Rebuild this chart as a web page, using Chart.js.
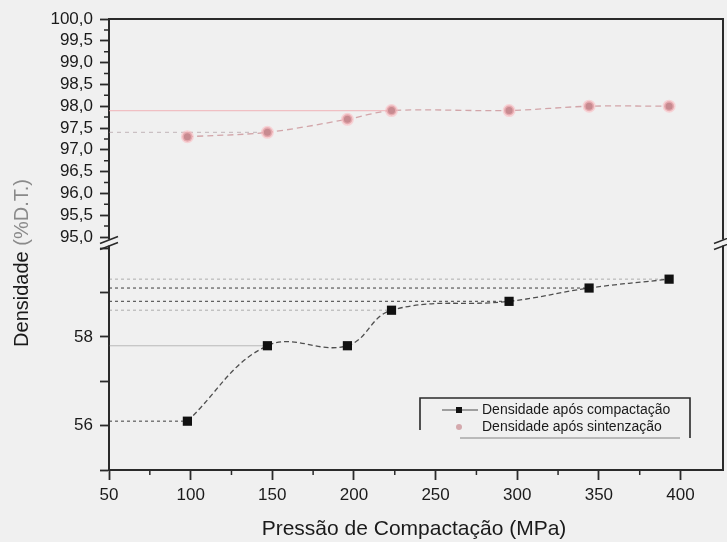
<!DOCTYPE html>
<html lang="pt">
  <head>
    <meta charset="UTF-8" />
    <title>Densidade x Pressão de Compactação</title>
    <style>
      body {
        margin: 0;
        padding: 0;
        background-color: #f0f0f0;
      }
      canvas {
        display: block;
      }
    </style>
  </head>
  <body>
    <canvas id="chart" width="727" height="542"></canvas>

    <script src="https://cdn.jsdelivr.net/npm/chart.js@4.4.1/dist/chart.umd.min.js"></script>
    <script>
      // dados
      const pressao = [98, 147, 196, 223, 295, 344, 393];
      const densCompactacao = [56.1, 57.8, 57.8, 58.6, 58.8, 59.1, 59.3];
      const densSinterizacao = [97.3, 97.4, 97.7, 97.9, 97.9, 98.0, 98.0];

      const xTicks = [50, 100, 150, 200, 250, 300, 350, 400];
      const xMinorTicks = [75, 125, 175, 225, 275, 325, 375];
      const yTopTicks = [95, 95.5, 96, 96.5, 97, 97.5, 98, 98.5, 99, 99.5, 100];
      const yTopMinorTicks = [95.25, 95.75, 96.25, 96.75, 97.25, 97.75, 98.25, 98.75, 99.25, 99.75];
      const yBotTicks = [55, 56, 57, 58, 59, 60];
      const yBotLabels = [56, 58];

      const legendLabels = ["Densidade após compactação", "Densidade após sintenzação"];
      const xTitle = "Pressão de Compactação (MPa)";
      const yTitle = ["Densidade", "(%D.T.)"];

      // linhas de chamada (do eixo ate o ponto) que aparecem na figura
      const dropCompactacao = [0, 1, 3, 4, 5, 6];
      const dropSinterizacao = [1, 3];
      const dropStyle = {
        dark: { color: "rgba(40,40,40,0.75)", dash: [3, 3] },
        light: { color: "rgba(120,120,120,0.45)", dash: [] },
        faint: { color: "rgba(80,80,80,0.35)", dash: [3, 3] },
        pink: { color: "rgba(240,170,175,0.7)", dash: [] },
        pinkDash: { color: "rgba(170,150,155,0.55)", dash: [4, 4] },
      };
      const dropCompStyle = ["dark", "light", null, "faint", "dark", "dark", "faint"];
      const dropSintStyle = [null, "pinkDash", null, "pink"];

      const FONT = "'Liberation Sans', Arial, sans-serif";
      const X_MIN = 50;

      function dropLine(i, values, axis, styleName) {
        const st = dropStyle[styleName];
        return {
          label: "",
          data: [
            { x: X_MIN, y: values[i] },
            { x: pressao[i], y: values[i] },
          ],
          yAxisID: axis,
          borderColor: st.color,
          borderDash: st.dash,
          borderWidth: 1.2,
          pointRadius: 0,
          tension: 0,
          order: 5,
        };
      }

      const datasets = [
        {
          label: legendLabels[0],
          data: pressao.map((p, i) => ({ x: p, y: densCompactacao[i] })),
          yAxisID: "yBot",
          borderColor: "rgba(50,50,50,0.85)",
          borderWidth: 1.3,
          borderDash: [5, 3],
          tension: 0.4,
          pointStyle: "rect",
          pointRadius: 6.5,
          pointBackgroundColor: "#111",
          pointBorderColor: "#111",
          pointBorderWidth: 0,
          order: 1,
        },
        {
          label: legendLabels[1],
          data: pressao.map((p, i) => ({ x: p, y: densSinterizacao[i] })),
          yAxisID: "yTop",
          borderColor: "rgba(200,140,145,0.75)",
          borderWidth: 1.3,
          borderDash: [6, 4],
          tension: 0.3,
          pointStyle: "circle",
          pointRadius: 5,
          pointBackgroundColor: "#c88a90",
          pointBorderColor: "rgba(250,190,195,0.6)",
          pointBorderWidth: 3,
          order: 1,
        },
      ];
      dropCompactacao.forEach((i) =>
        datasets.push(dropLine(i, densCompactacao, "yBot", dropCompStyle[i]))
      );
      dropSinterizacao.forEach((i) =>
        datasets.push(dropLine(i, densSinterizacao, "yTop", dropSintStyle[i]))
      );

      // molduras, quebras de eixo, titulos e legenda
      const decorPlugin = {
        id: "decor",
        afterDraw(chart) {
          const ctx = chart.ctx;
          const area = chart.chartArea;
          const sx = chart.scales.x;
          const yTop = chart.scales.yTop;
          const yBot = chart.scales.yBot;
          ctx.save();

          // moldura superior e direita
          ctx.strokeStyle = "#2a2a2a";
          ctx.lineWidth = 2;
          ctx.beginPath();
          ctx.moveTo(area.left, area.top);
          ctx.lineTo(area.right, area.top);
          ctx.lineTo(area.right, area.bottom);
          ctx.stroke();

          // ticks menores
          ctx.lineWidth = 1.5;
          ctx.beginPath();
          xMinorTicks.forEach((v) => {
            const px = sx.getPixelForValue(v);
            ctx.moveTo(px, area.bottom);
            ctx.lineTo(px, area.bottom + 5);
          });
          yTopMinorTicks.forEach((v) => {
            const py = yTop.getPixelForValue(v);
            ctx.moveTo(area.left - 5, py);
            ctx.lineTo(area.left, py);
          });
          ctx.stroke();

          // quebras de eixo
          const yb = (yTop.getPixelForValue(95) + yBot.getPixelForValue(60)) / 2;
          [area.left, area.right].forEach((ax) => {
            ctx.fillStyle = "#f0f0f0";
            ctx.fillRect(ax - 2, yb - 3, 4, 6);
            ctx.strokeStyle = "#2a2a2a";
            ctx.lineWidth = 1.6;
            ctx.beginPath();
            ctx.moveTo(ax - 9, yb + 1);
            ctx.lineTo(ax + 9, yb - 6);
            ctx.moveTo(ax - 9, yb + 7);
            ctx.lineTo(ax + 9, yb);
            ctx.stroke();
          });

          // titulo eixo x
          ctx.fillStyle = "#1a1a1a";
          ctx.font = "21px " + FONT;
          ctx.textAlign = "center";
          ctx.textBaseline = "middle";
          ctx.fillText(xTitle, 414, 529);

          // titulo eixo y
          ctx.save();
          ctx.translate(22, 263);
          ctx.rotate(-Math.PI / 2);
          ctx.font = "20px " + FONT;
          const w0 = ctx.measureText(yTitle[0] + " ").width;
          const w1 = ctx.measureText(yTitle[1]).width;
          const start = -(w0 + w1) / 2;
          ctx.textAlign = "left";
          ctx.fillStyle = "#1a1a1a";
          ctx.fillText(yTitle[0], start, 0);
          ctx.fillStyle = "#8a8a8a";
          ctx.fillText(yTitle[1], start + w0, 0);
          ctx.restore();

          // legenda
          const lx = 420, ly = 398, lw = 270, lh = 40;
          ctx.strokeStyle = "#2a2a2a";
          ctx.lineWidth = 1.6;
          ctx.beginPath();
          ctx.moveTo(lx, ly + lh - 8);
          ctx.lineTo(lx, ly);
          ctx.lineTo(lx + lw, ly);
          ctx.lineTo(lx + lw, ly + lh);
          ctx.stroke();
          ctx.strokeStyle = "rgba(60,60,60,0.6)";
          ctx.lineWidth = 1;
          ctx.beginPath();
          ctx.moveTo(lx + 40, ly + lh);
          ctx.lineTo(lx + lw - 10, ly + lh);
          ctx.stroke();

          const rows = [ly + 12, ly + 29];
          // simbolo 1
          const d0 = chart.data.datasets[0];
          ctx.strokeStyle = d0.borderColor;
          ctx.lineWidth = 1.2;
          ctx.setLineDash([]);
          ctx.beginPath();
          ctx.moveTo(lx + 22, rows[0]);
          ctx.lineTo(lx + 58, rows[0]);
          ctx.stroke();
          ctx.fillStyle = d0.pointBackgroundColor;
          ctx.fillRect(lx + 36, rows[0] - 3, 6, 6);
          // simbolo 2
          const d1 = chart.data.datasets[1];
          ctx.fillStyle = d1.pointBackgroundColor;
          ctx.globalAlpha = 0.7;
          ctx.beginPath();
          ctx.arc(lx + 39, rows[1], 3, 0, Math.PI * 2);
          ctx.fill();
          ctx.globalAlpha = 1;

          ctx.fillStyle = "#1a1a1a";
          ctx.font = "14px " + FONT;
          ctx.textAlign = "left";
          ctx.textBaseline = "middle";
          ctx.fillText(legendLabels[0], lx + 62, rows[0]);
          ctx.fillText(legendLabels[1], lx + 62, rows[1]);
          ctx.restore();
        },
      };

      const axisColor = "#2a2a2a";

      new Chart(document.getElementById("chart").getContext("2d"), {
        type: "line",
        data: { datasets: datasets },
        options: {
          responsive: false,
          animation: false,
          layout: {
            autoPadding: false,
            padding: { top: 19, right: 4, left: 0, bottom: 0 },
          },
          plugins: {
            legend: { display: false },
            tooltip: { enabled: false },
          },
          scales: {
            x: {
              type: "linear",
              position: "bottom",
              min: 50,
              max: 426,
              afterBuildTicks: (s) => {
                s.ticks = xTicks.map((v) => ({ value: v }));
              },
              afterFit: (s) => {
                s.height = 72;
              },
              grid: {
                drawOnChartArea: false,
                tickLength: 10,
                tickColor: axisColor,
                tickWidth: 1.8,
              },
              border: { color: axisColor, width: 2 },
              ticks: {
                autoSkip: false,
                font: { size: 17, family: FONT },
                color: "#1a1a1a",
                padding: 5,
                maxRotation: 0,
              },
            },
            yBot: {
              type: "linear",
              position: "left",
              stack: "dens",
              stackWeight: 233,
              min: 55,
              max: 60.25,
              afterBuildTicks: (s) => {
                s.ticks = yBotTicks.map((v) => ({ value: v }));
              },
              afterFit: (s) => {
                s.width = 109;
              },
              grid: {
                drawOnChartArea: false,
                tickLength: 9,
                tickColor: axisColor,
                tickWidth: 1.8,
              },
              border: { color: axisColor, width: 2 },
              ticks: {
                autoSkip: false,
                font: { size: 17, family: FONT },
                color: "#1a1a1a",
                padding: 7,
                callback: (v) => (yBotLabels.includes(v) ? String(v) : ""),
              },
            },
            yTop: {
              type: "linear",
              position: "left",
              stack: "dens",
              stackWeight: 218,
              min: 95,
              max: 100,
              afterBuildTicks: (s) => {
                s.ticks = yTopTicks.map((v) => ({ value: v }));
              },
              afterFit: (s) => {
                s.width = 109;
              },
              grid: {
                drawOnChartArea: false,
                tickLength: 9,
                tickColor: axisColor,
                tickWidth: 1.8,
              },
              border: { color: axisColor, width: 2 },
              ticks: {
                autoSkip: false,
                font: { size: 17, family: FONT },
                color: "#1a1a1a",
                padding: 7,
                callback: (v) => v.toFixed(1).replace(".", ","),
              },
            },
          },
        },
        plugins: [decorPlugin],
      });
    </script>
  </body>
</html>
